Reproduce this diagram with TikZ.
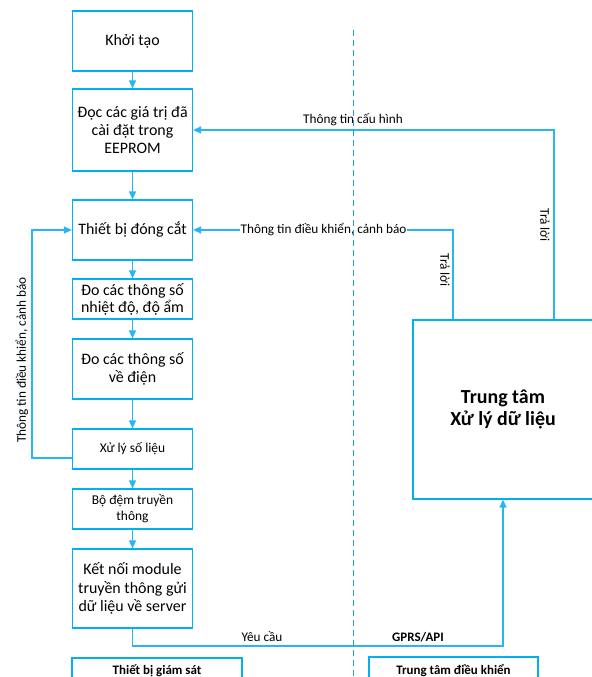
\documentclass[tikz,border=0pt]{standalone}
\usepackage{fontspec}
\setmainfont{Carlito}
\usetikzlibrary{arrows.meta,calc}
\definecolor{bx}{RGB}{0,176,240}
\definecolor{ln}{RGB}{40,182,242}
\definecolor{dl}{RGB}{30,160,220}
\begin{document}
\begin{tikzpicture}[x=1bp,y=-1bp,
 box/.style={draw=bx,line width=1.2bp,align=center,inner sep=0pt,minimum width=120bp,font=\fontsize{16}{18.5}\selectfont},
 sbox/.style={box,font=\fontsize{13.5}{16}\selectfont},
 bbox/.style={draw=bx,line width=1.2bp,inner sep=0pt},
 conn/.style={draw=ln,line width=1.3bp},
 arr/.style={conn,-{Triangle[length=8bp,width=7bp]}},
 lbl/.style={font=\fontsize{13.3}{15}\selectfont,inner sep=1bp},
 blbl/.style={font=\bfseries\fontsize{13}{15}\selectfont,inner sep=1bp},
]
\path[use as bounding box] (0,0) rectangle (592,677);
\begin{scope}
\clip (0,0) rectangle (592,677);
% left column
\node[box,minimum height=60bp] (kt) at (132.5,41) {Khởi tạo};
\node[box,minimum height=82bp] (doc) at (132.5,130) {Đọc các giá trị đã\\cài đặt trong\\EEPROM};
\node[box,minimum height=60bp] (tb) at (132.5,230) {Thiết bị đóng cắt};
\node[box,minimum height=40bp,font=\fontsize{16}{17}\selectfont] (nd) at (132.5,299) {Đo các thông số\\nhiệt độ, độ ẩm};
\node[box,minimum height=60bp] (dd) at (132.5,369) {Đo các thông số\\về điện};
\node[sbox,minimum height=40bp] (xl) at (132.5,449) {Xử lý số liệu};
\node[sbox,minimum height=40bp] (bd) at (132.5,509) {Bộ đệm truyền\\thông};
\node[box,minimum height=79bp] (kn) at (132.5,588.5) {Kết nối module\\truyền thông gửi\\dữ liệu về server};
% right box
\node[bbox,minimum width=180bp,minimum height=179bp,align=center,font=\bfseries\fontsize{20}{21.5}\selectfont] (tt) at (503,409.5) {Trung tâm\\Xử lý dữ liệu};
% bottom boxes
\node[bbox,minimum width=170bp,minimum height=40bp] (gs) at (157,678) {};
\node[blbl] at (157,671) {Thiết bị giám sát};
\node[bbox,minimum width=169bp,minimum height=40bp] (dk) at (453.5,677) {};
\node[blbl] at (453.5,671) {Trung tâm điều khiển};
% vertical flow
\draw[arr] (kt) -- (doc);
\draw[arr] (doc) -- (tb);
\draw[arr] (tb) -- (nd);
\draw[arr] (nd) -- (dd);
\draw[arr] (dd) -- (xl);
\draw[arr] (xl) -- (bd);
\draw[arr] (bd) -- (kn);
% feedback left
\coordinate (fb) at (32,458);
\draw[arr] (xl.west |- fb) -- (fb) |- (tb.west);
\node[lbl,rotate=90] at (22,360) {Thông tin điều khiển, cảnh báo};
% config
\coordinate (c1) at (554,130);
\draw[arr] (c1 |- tt.north) -- (c1) -- (doc.east |- c1);
\node[lbl,anchor=south] at (353,127) {Thông tin cấu hình};
\node[lbl,rotate=-90] at (545,225) {Trả lời};
% control
\coordinate (c2) at (453,230);
\draw[arr] (c2 |- tt.north) -- (c2) -- (tb.east);
\node[lbl,fill=white] at (323.5,230) {Thông tin điều khiển, cảnh báo};
\node[lbl,rotate=-90] at (445,270) {Trả lời};
% request
\coordinate (c3) at (503,646);
\draw[arr] (kn.south) |- (c3) -- (tt.south -| c3);
\node[lbl] at (262,637) {Yêu cầu};
\node[blbl] at (418,637) {GPRS/API};
% divider
\draw[dl,line width=1bp,dash pattern=on 6bp off 4bp] (353,30) -- (353,677);
\end{scope}
\end{tikzpicture}
\end{document}
